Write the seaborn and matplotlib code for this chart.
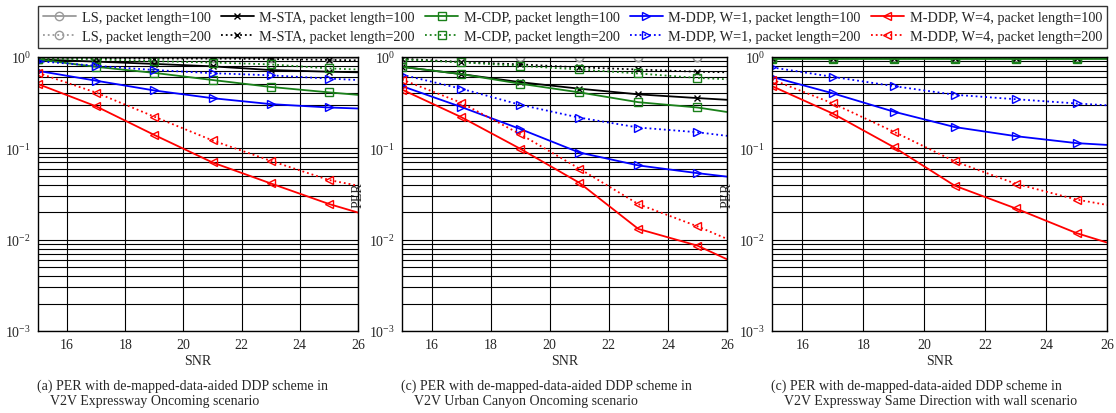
import matplotlib
matplotlib.use("Agg")
import matplotlib.pyplot as plt
from matplotlib.ticker import LogLocator, NullFormatter
import numpy as np
import seaborn as sns

snr = [15, 17, 19, 21, 23, 25, 26]

labels = [
    "LS, packet length=100", "LS, packet length=200",
    "M-STA, packet length=100", "M-STA, packet length=200",
    "M-CDP, packet length=100", "M-CDP, packet length=200",
    "M-DDP, W=1, packet length=100", "M-DDP, W=1, packet length=200",
    "M-DDP, W=4, packet length=100", "M-DDP, W=4, packet length=200",
]

# panel (a) Expressway Oncoming
per_a = [
    [0.97, 0.97, 0.97, 0.97, 0.97, 0.97, 0.97],
    [1.0, 1.0, 1.0, 1.0, 1.0, 1.0, 1.0],
    [0.94, 0.89, 0.84, 0.79, 0.72, 0.69, 0.68],
    [0.97, 0.97, 0.96, 0.96, 0.95, 0.93, 0.92],
    [0.94, 0.78, 0.67, 0.56, 0.47, 0.41, 0.385],
    [0.95, 0.94, 0.90, 0.87, 0.83, 0.75, 0.73],
    [0.705, 0.55, 0.43, 0.354, 0.305, 0.28, 0.273],
    [0.90, 0.80, 0.72, 0.665, 0.63, 0.58, 0.56],
    [0.506, 0.288, 0.14, 0.07, 0.0413, 0.0246, 0.0198],
    [0.67, 0.407, 0.222, 0.122, 0.073, 0.045, 0.039],
]

# panel (c) Urban Canyon Oncoming
per_b = [
    [0.99, 0.99, 0.99, 0.99, 0.99, 0.99, 0.99],
    [1.0, 1.0, 1.0, 1.0, 1.0, 1.0, 1.0],
    [0.78, 0.65, 0.53, 0.45, 0.39, 0.355, 0.34],
    [0.96, 0.88, 0.83, 0.77, 0.73, 0.69, 0.68],
    [0.78, 0.65, 0.51, 0.41, 0.32, 0.28, 0.25],
    [0.94, 0.875, 0.80, 0.73, 0.66, 0.59, 0.57],
    [0.48, 0.284, 0.163, 0.09, 0.065, 0.0535, 0.049],
    [0.64, 0.45, 0.30, 0.217, 0.169, 0.15, 0.137],
    [0.44, 0.22, 0.099, 0.042, 0.0131, 0.0086, 0.0061],
    [0.567, 0.316, 0.143, 0.06, 0.0245, 0.014, 0.0102],
]

# panel (c) Expressway Same Direction with wall
per_c = [
    [0.99, 0.99, 0.99, 0.99, 0.99, 0.99, 0.99],
    [1.0, 1.0, 1.0, 1.0, 1.0, 1.0, 1.0],
    [0.97, 0.97, 0.97, 0.97, 0.97, 0.97, 0.97],
    [0.985, 0.985, 0.985, 0.985, 0.985, 0.985, 0.985],
    [0.96, 0.96, 0.96, 0.96, 0.96, 0.96, 0.96],
    [0.975, 0.975, 0.975, 0.975, 0.975, 0.975, 0.975],
    [0.606, 0.40, 0.252, 0.171, 0.136, 0.114, 0.109],
    [0.77, 0.606, 0.48, 0.386, 0.345, 0.31, 0.296],
    [0.48, 0.24, 0.103, 0.039, 0.022, 0.0118, 0.0093],
    [0.567, 0.31, 0.152, 0.072, 0.041, 0.0275, 0.024],
]

captions = [
    ["(a) PER with de-mapped-data-aided DDP scheme in", "V2V Expressway Oncoming scenario"],
    ["(c) PER with de-mapped-data-aided DDP scheme in", "V2V Urban Canyon Oncoming scenario"],
    ["(c) PER with de-mapped-data-aided DDP scheme in", "V2V Expressway Same Direction with wall scenario"],
]

colors = ["#9a9a9a", "#9a9a9a", "black", "black", "#1a801a", "#1a801a",
          "#0000ff", "#0000ff", "#ff0000", "#ff0000"]
markers = ["o", "o", "x", "x", "s", "s", ">", ">", "<", "<"]
styles = ["-", ":", "-", ":", "-", ":", "-", ":", "-", ":"]

sns.set_style("white")
plt.rcParams["font.family"] = ["Liberation Serif", "DejaVu Serif"]
plt.rcParams["mathtext.fontset"] = "stix"

fig = plt.figure(figsize=(11.16, 4.14), dpi=100)
W, H = 1116, 414
boxes = [(38, 358), (402, 727), (772, 1107)]
top, bottom = 58, 332

axes = []
for i, ((x0, x1), data, cap) in enumerate(zip(boxes, [per_a, per_b, per_c], captions)):
    ax = fig.add_axes([x0 / W, 1 - bottom / H, (x1 - x0) / W, (bottom - top) / H])
    axes.append(ax)
    for vals, lab, col, mk, ls in zip(data, labels, colors, markers, styles):
        sns.lineplot(x=snr, y=vals, ax=ax, color=col, linestyle=ls, marker=mk,
                     markersize=6 if mk != "x" else 4.5, mfc="none", mec=col,
                     mew=1.0, lw=1.3, markevery=list(range(6)), label=lab)
    ax.set_yscale("log")
    ax.set_ylim(1e-3, 1)
    ax.set_xlim(15, 26)
    ax.set_xticks([16, 18, 20, 22, 24, 26])
    ax.yaxis.set_major_locator(LogLocator(base=10, numticks=10))
    ax.yaxis.set_minor_locator(LogLocator(base=10, subs=np.arange(2, 10), numticks=10))
    ax.yaxis.set_minor_formatter(NullFormatter())
    ax.grid(True, which="major", color="black", lw=0.8)
    ax.grid(True, which="minor", axis="y", color="black", lw=0.8)
    ax.set_axisbelow(True)
    for s in ax.spines.values():
        s.set_color("black")
        s.set_linewidth(1.0)
    ax.tick_params(labelsize=10, direction="in", length=3, pad=5)
    ax.set_xlabel("SNR", fontsize=10, labelpad=2)
    if i > 0:
        ax.set_ylabel("PER", fontsize=10)
        ax.yaxis.set_label_coords(-0.115, 0.5)
    else:
        ax.set_ylabel("")
    if ax.get_legend() is not None:
        ax.get_legend().remove()
    fig.text((x0 - 1) / W, 1 - 386 / H, cap[0], fontsize=10, ha="left", va="center")
    fig.text((x0 + 12) / W, 1 - 402 / H, cap[1], fontsize=10, ha="left", va="center")

handles, labs = axes[0].get_legend_handles_labels()
fig.legend(handles, labs, ncol=5, loc="upper left",
           bbox_to_anchor=(38 / W, 1 - 7 / H, (1107 - 38) / W, 0), mode="expand",
           borderaxespad=0, fontsize=10.3, frameon=True, fancybox=False,
           edgecolor="black", borderpad=0.35, labelspacing=0.4,
           handlelength=2.3, handletextpad=0.4, columnspacing=0.8)

fig.savefig("out.png", dpi=100)
